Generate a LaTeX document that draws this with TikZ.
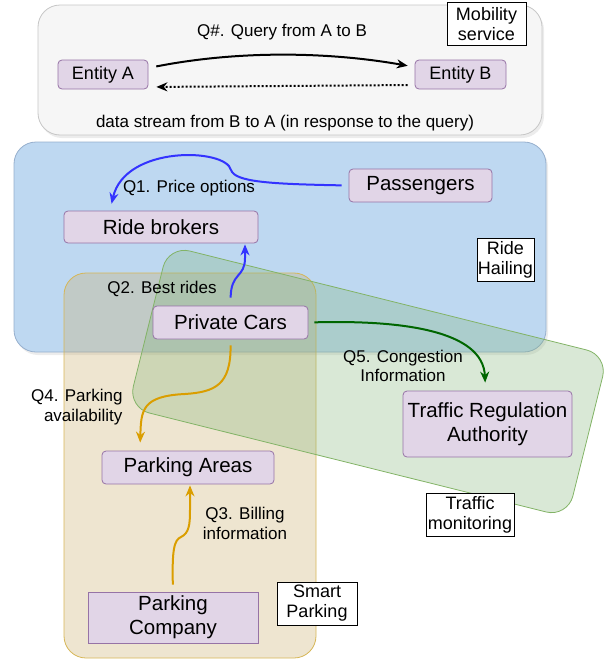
\documentclass[tikz,border=0pt]{standalone}
\usepackage{fontspec}
\setmainfont{Liberation Sans}
\usepackage{tikz}
\usetikzlibrary{arrows.meta,shadows}
\definecolor{actorfill}{RGB}{225,213,231}
\definecolor{actorline}{RGB}{150,115,166}
\definecolor{hailfill}{RGB}{190,216,241}
\definecolor{hailline}{RGB}{150,175,205}
\definecolor{parkfill}{RGB}{200,170,100}
\definecolor{parkline}{RGB}{214,182,86}
\definecolor{trafill}{RGB}{130,180,120}
\definecolor{traline}{RGB}{130,179,102}
\definecolor{qblue}{RGB}{51,51,255}
\definecolor{qorange}{RGB}{218,158,0}
\definecolor{qgreen}{RGB}{0,102,0}

\begin{document}
\begin{tikzpicture}[x=1pt, y=-1pt, >={Stealth[length=11pt,width=9pt]},
  zone/.style={rounded corners=22pt, inner sep=0pt, line width=0.8pt},
  actor/.style={draw=actorline, fill=actorfill, rounded corners=4pt, line width=0.8pt,
    inner sep=0pt, align=center, font=\fontsize{20.5}{24}\selectfont},
  tag/.style={draw, fill=white, line width=0.8pt, inner sep=1pt, align=center,
    minimum height=43pt, font=\fontsize{18}{20}\selectfont},
  qlabel/.style={align=center, font=\fontsize{17}{19.5}\selectfont},
  query/.style={->, line width=2pt}]
  \useasboundingbox (0,0) rectangle (607,664);

  \node[zone, draw=gray!45, fill=gray!7, minimum width=504pt, minimum height=130pt,
    drop shadow={opacity=0.15, shadow xshift=2pt, shadow yshift=-3pt}] (mobility) at (290,70) {};
  \node[zone, draw=hailline, fill=hailfill, minimum width=532pt, minimum height=210pt,
    drop shadow={opacity=0.15, shadow xshift=2pt, shadow yshift=-3pt}] (hailing) at (280,247) {};
  \node[zone, draw=parkline, fill=parkfill, fill opacity=0.3, minimum width=252pt,
    minimum height=385pt] (parking) at (190,465.5) {};
  \node[zone, draw=traline, fill=trafill, fill opacity=0.3, minimum width=453pt,
    minimum height=167pt, rotate=-14] (traffic) at (368,381.5) {};

  \node[tag, minimum width=79pt] (mobtag) at (486.5,24) {Mobility\\service};
  \node[tag, minimum width=57pt] (hailtag) at (505.5,259.5) {Ride\\Hailing};
  \node[tag, minimum width=88pt] (traftag) at (470,514.5) {Traffic\\monitoring};
  \node[tag, minimum width=80pt] (parktag) at (317,603.5) {Smart\\Parking};

  \node[actor, minimum width=90pt, minimum height=29pt, font=\fontsize{18}{21}\selectfont] (enta) at (103,74.5) {Entity A};
  \node[actor, minimum width=91pt, minimum height=29pt, font=\fontsize{18}{21}\selectfont] (entb) at (460.5,74.5) {Entity B};
  \node[actor, minimum width=143pt, minimum height=33pt] (pass) at (420.5,185.5) {Passengers};
  \node[actor, minimum width=194pt, minimum height=32pt] (broker) at (161,227) {Ride brokers};
  \node[actor, minimum width=155pt, minimum height=33pt] (cars) at (230.5,322.5) {Private Cars};
  \node[actor, minimum width=172pt, minimum height=33pt] (areas) at (188,467.5) {Parking Areas};
  \node[actor, sharp corners, minimum width=170pt, minimum height=51pt] (company) at (173,617.5) {Parking\\Company};
  \node[actor, minimum width=169pt, minimum height=66pt] (tra) at (487.5,424) {Traffic Regulation\\Authority};

  \node[qlabel] (qany) at (282,32) {Q\#. Query from A to B};
  \node[qlabel] (qdata) at (285,123) {data stream from B to A (in response to the query)};
  \node[qlabel] (qone) at (189,188) {Q1. Price options};
  \node[qlabel] (qtwo) at (162,289) {Q2. Best rides};
  \node[qlabel, anchor=east, align=right] (qfour) at (126,407) {Q4. Parking\\availability};
  \node[qlabel] (qthree) at (245,523.5) {Q3. Billing\\information};
  \node[qlabel] (qfive) at (403,366) {Q5. Congestion\\Information};

  \draw[query, shorten <=8pt, shorten >=7pt] ([yshift=6.5pt]enta.east)
    .. controls (240,50) and (330,52) .. ([yshift=7.5pt]entb.west);
  \draw[query, dash pattern=on 2pt off 2pt, shorten <=7pt, shorten >=8pt]
    ([yshift=-10.5pt]entb.west) -- ([yshift=-12.5pt]enta.east);
  \draw[query, qblue, shorten <=7pt, shorten >=7pt] (pass.west)
    .. controls (270,184) and (235,182) .. (231,170)
    .. controls (226,148) and (125,145) .. ([xshift=-51pt]broker.north);
  \draw[query, qblue, shorten <=8pt, shorten >=1pt] (cars.north)
    .. controls (231,272) and (245,278) .. (245,258) -- ([xshift=84pt]broker.south);
  \draw[query, qorange, shorten <=6pt, shorten >=8pt] (cars.south)
    .. controls (231,385) and (215,392) .. (185,394)
    .. controls (142,396) and (141,410) .. ([xshift=-48pt]areas.north);
  \draw[query, qorange, shorten <=7pt, shorten >=1pt] (company.north)
    .. controls (172,550) and (174,540) .. (181,537)
    .. controls (189,533) and (190,525) .. (190,510) -- ([xshift=2pt]areas.south);
  \draw[query, qgreen, shorten <=6pt, shorten >=8pt] (cars.east)
    .. controls (400,320) and (483,330) .. ([xshift=-2pt]tra.north);
\end{tikzpicture}
\end{document}
